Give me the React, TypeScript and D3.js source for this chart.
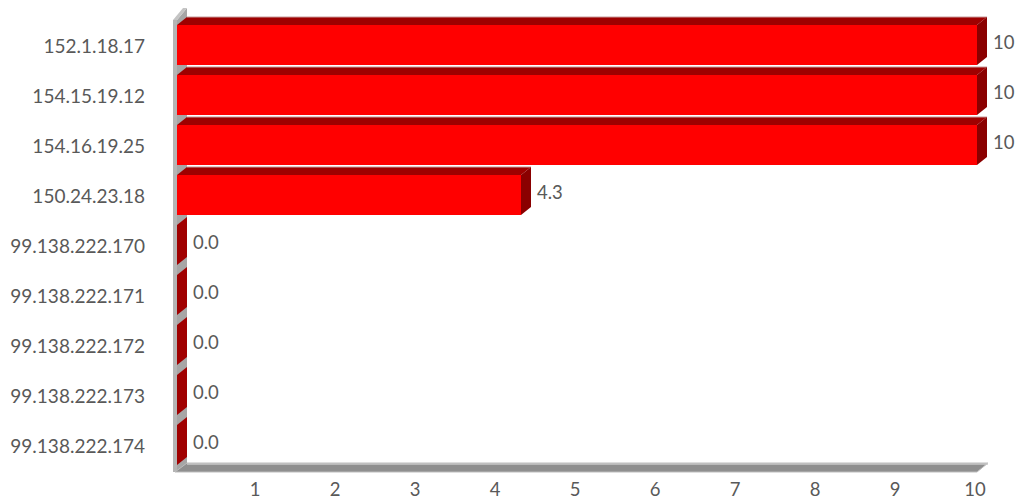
import React from "react";
import * as d3 from "d3";

const categories = [
  "152.1.18.17",
  "154.15.19.12",
  "154.16.19.25",
  "150.24.23.18",
  "99.138.222.170",
  "99.138.222.171",
  "99.138.222.172",
  "99.138.222.173",
  "99.138.222.174",
];
const values = [10, 10, 10, 4.3, 0, 0, 0, 0, 0];
const xTicks = [1, 2, 3, 4, 5, 6, 7, 8, 9, 10];

const W = 1016;
const H = 502;
const DX = 10;
const DY = -8;
const FONT = "Lato, 'Noto Sans', sans-serif";
const TXT = "#595959";

export default function App() {
  const x = d3.scaleLinear().domain([0, 10]).range([177, 977]);
  const y = d3
    .scaleBand<string>()
    .domain(categories)
    .range([20, 470])
    .paddingInner(0.2)
    .paddingOuter(0.1);
  const bw = y.bandwidth();
  const fmt1 = d3.format(".1f");
  const fmtInt = d3.format("d");
  const fmt = (v: number) => (v >= 10 ? fmtInt(v) : fmt1(v));
  const x0 = x(0);
  const floorY = 472;
  const wallTop = 20;

  const poly = (pts: [number, number][]) => pts.map((p) => p.join(",")).join(" ");

  return (
    <svg
      width={W}
      height={H}
      style={{ position: "absolute", left: 0, top: 0, background: "#fff" }}
    >
      {/* left wall inner face */}
      <polygon
        points={poly([
          [x0, floorY],
          [x0 + DX, floorY + DY],
          [x0 + DX, wallTop - 12],
          [x0, wallTop],
        ])}
        fill="#a6a6a6"
      />
      {/* left wall thickness strip */}
      <rect x={x0 - 4} y={wallTop} width={4} height={floorY - wallTop} fill="#b5b5b5" />
      <polygon
        points={poly([
          [x0 - 4, wallTop],
          [x0, wallTop],
          [x0 + DX, wallTop - 12],
          [x0 + DX - 4, wallTop - 12],
        ])}
        fill="#c4c4c4"
      />
      {/* floor */}
      <polygon
        points={poly([
          [x0 - 2, floorY],
          [x(10), floorY],
          [x(10) + DX + 1, floorY + DY - 1],
          [x0 + DX, floorY + DY - 1],
        ])}
        fill="#8f8f8f"
        stroke="#bdbdbd"
        strokeWidth={1}
      />
      <line
        x1={x0 + DX}
        x2={x(10) + DX + 1}
        y1={floorY + DY}
        y2={floorY + DY}
        stroke="#c8c8c8"
        strokeWidth={1.5}
      />

      {/* bars */}
      {categories.map((c, i) => {
        const v = values[i];
        const y0 = y(c)!;
        const x1 = x(v);
        return (
          <g key={c}>
            {v > 0 && (
              <>
                <polygon
                  points={poly([
                    [x0, y0],
                    [x1, y0],
                    [x1 + DX, y0 + DY],
                    [x0 + DX, y0 + DY],
                  ])}
                  fill="#9e0000"
                />
                <line
                  x1={x0 + DX}
                  x2={x1 + DX}
                  y1={y0 + DY}
                  y2={y0 + DY}
                  stroke="#c79a9a"
                  strokeWidth={1}
                />
                <rect x={x0} y={y0} width={x1 - x0} height={bw} fill="#ff0000" />
              </>
            )}
            <polygon
              points={poly([
                [x1, y0],
                [x1 + DX, y0 + DY],
                [x1 + DX, y0 + bw + DY],
                [x1, y0 + bw],
              ])}
              fill={v > 0 ? "#8a0000" : "#a00000"}
            />
          </g>
        );
      })}

      {/* value labels */}
      {categories.map((c, i) => (
        <text
          key={c}
          x={x(values[i]) + DX + 6}
          y={y(c)! + bw / 2 - 3}
          dominantBaseline="central"
          fontFamily={FONT}
          fontSize={18.5}
          fill={TXT}
        >
          {fmt(values[i])}
        </text>
      ))}

      {/* category labels */}
      {categories.map((c) => (
        <text
          key={c}
          x={145}
          y={y(c)! + bw / 2}
          textAnchor="end"
          dominantBaseline="central"
          fontFamily={FONT}
          fontSize={19}
          fill={TXT}
        >
          {c}
        </text>
      ))}

      {/* x tick labels */}
      {xTicks.map((t) => (
        <text
          key={t}
          x={x(t) - 2}
          y={489}
          textAnchor="middle"
          dominantBaseline="central"
          fontFamily={FONT}
          fontSize={18.5}
          fill={TXT}
        >
          {t}
        </text>
      ))}
    </svg>
  );
}
